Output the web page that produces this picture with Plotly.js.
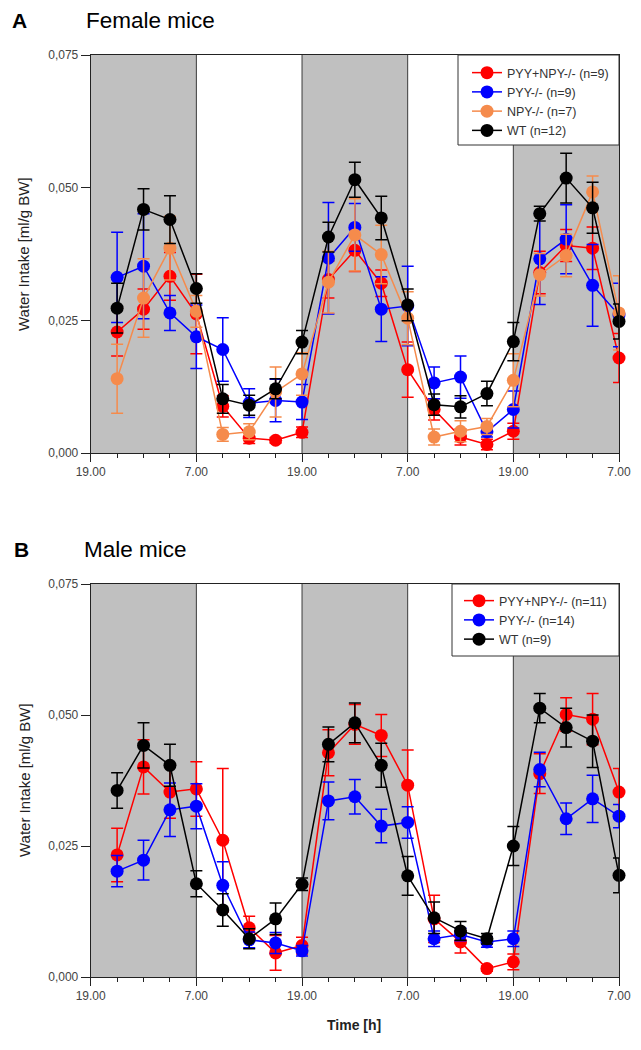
<!DOCTYPE html>
<html>
<head>
<meta charset="utf-8">
<script src="https://cdn.plot.ly/plotly-3.0.1.min.js"></script>
<style>html,body{margin:0;padding:0;background:#fff;}#chart{width:641px;height:1050px;}</style>
</head>
<body>
<div id="chart"></div>
<script>
// Time after start of recording (h); 0 = 19.00
var hours = [3,6,9,12,15,18,21,24,27,30,33,36,39,42,45,48,51,54,57,60];
var xTickVals = [0,12,24,36,48,60];
var xTickText = ['19.00','7.00','19.00','7.00','19.00','7.00'];
var yTickVals = [0,0.025,0.05,0.075];
var yTickText = ['0,000','0,025','0,050','0,075'];
var darkPeriods = [[0,12],[24,36],[48,60]];
var boundaries = [12,24,36,48];

// Female mice
var femRed    = [0.0228,0.0271,0.0333,0.0262,0.0088,0.0028,0.0024,0.0039,0.0327,0.0382,0.0320,0.0157,0.0082,0.0030,0.0016,0.0041,0.0340,0.0391,0.0386,0.0179];
var femRedErr = [0.0045,0.0038,0.0045,0.0075,0.0020,0.0010,0.0005,0.0010,0.0035,0.0040,0.0025,0.0052,0.0020,0.0015,0.0010,0.0015,0.0040,0.0030,0.0040,0.0046];
var femBlue    = [0.0331,0.0352,0.0264,0.0219,0.0195,0.0094,0.0099,0.0096,0.0367,0.0425,0.0271,0.0277,0.0132,0.0143,0.0040,0.0082,0.0366,0.0403,0.0316,0.0260];
var femBlueErr = [0.0085,0.0099,0.0033,0.0060,0.0060,0.0027,0.0040,0.0033,0.0105,0.0045,0.0061,0.0075,0.0030,0.0040,0.0010,0.0035,0.0086,0.0065,0.0077,0.0060];
var femOrange    = [0.0140,0.0292,0.0386,0.0267,0.0035,0.0040,0.0115,0.0149,0.0322,0.0411,0.0374,0.0254,0.0030,0.0041,0.0050,0.0137,0.0336,0.0372,0.0492,0.0264];
var femOrangeErr = [0.0065,0.0074,0.0060,0.0030,0.0013,0.0015,0.0047,0.0040,0.0058,0.0068,0.0055,0.0050,0.0015,0.0020,0.0015,0.0050,0.0040,0.0040,0.0030,0.0070];
var femBlack    = [0.0273,0.0459,0.0440,0.0310,0.0102,0.0090,0.0121,0.0209,0.0407,0.0515,0.0443,0.0279,0.0091,0.0087,0.0112,0.0210,0.0451,0.0518,0.0462,0.0248];
var femBlackErr = [0.0047,0.0039,0.0045,0.0028,0.0027,0.0019,0.0019,0.0022,0.0028,0.0033,0.0041,0.0030,0.0020,0.0021,0.0023,0.0036,0.0014,0.0047,0.0048,0.0033];

// Male mice
var maleRed    = [0.0233,0.0401,0.0353,0.0359,0.0261,0.0094,0.0046,0.0060,0.0428,0.0482,0.0461,0.0366,0.0111,0.0067,0.0016,0.0029,0.0388,0.0501,0.0492,0.0353];
var maleRedErr = [0.0051,0.0052,0.0050,0.0052,0.0137,0.0022,0.0033,0.0016,0.0044,0.0038,0.0040,0.0067,0.0045,0.0021,0.0005,0.0015,0.0038,0.0032,0.0049,0.0045];
var maleBlue    = [0.0202,0.0223,0.0319,0.0326,0.0175,0.0071,0.0065,0.0050,0.0336,0.0344,0.0288,0.0295,0.0073,0.0081,0.0067,0.0073,0.0396,0.0302,0.0340,0.0307];
var maleBlueErr = [0.0030,0.0038,0.0051,0.0043,0.0045,0.0015,0.0020,0.0010,0.0036,0.0033,0.0032,0.0030,0.0015,0.0012,0.0010,0.0015,0.0033,0.0030,0.0045,0.0022];
var maleBlack    = [0.0356,0.0442,0.0404,0.0178,0.0128,0.0073,0.0111,0.0177,0.0444,0.0485,0.0404,0.0193,0.0113,0.0088,0.0073,0.0250,0.0513,0.0476,0.0450,0.0194];
var maleBlackErr = [0.0034,0.0043,0.0040,0.0025,0.0031,0.0019,0.0030,0.0012,0.0033,0.0038,0.0042,0.0037,0.0030,0.0018,0.0010,0.0037,0.0028,0.0037,0.0050,0.0033];

var femNames  = ['PYY+NPY-/- (n=9)','PYY-/- (n=9)','NPY-/- (n=7)','WT (n=12)'];
var maleNames = ['PYY+NPY-/- (n=11)','PYY-/- (n=14)','WT (n=9)'];

var RED='#ff0000', BLUE='#0000ff', ORANGE='#f58b4c', BLACK='#000000';

function tr(y, err, name, color, xa, ya, leg){
  return {
    x: hours, y: y, name: name, type:'scatter', mode:'lines+markers',
    xaxis: xa, yaxis: ya, legend: leg, cliponaxis:false,
    line:{color:color, width:1.5},
    marker:{color:color, size:13, symbol:'circle'},
    error_y:{type:'data', array:err, visible:true, color:color, thickness:1.5, width:6}
  };
}

var data = [
  tr(femRed, femRedErr, femNames[0], RED, 'x', 'y', 'legend'),
  tr(femBlue, femBlueErr, femNames[1], BLUE, 'x', 'y', 'legend'),
  tr(femOrange, femOrangeErr, femNames[2], ORANGE, 'x', 'y', 'legend'),
  tr(femBlack, femBlackErr, femNames[3], BLACK, 'x', 'y', 'legend'),
  tr(maleRed, maleRedErr, maleNames[0], RED, 'x2', 'y2', 'legend2'),
  tr(maleBlue, maleBlueErr, maleNames[1], BLUE, 'x2', 'y2', 'legend2'),
  tr(maleBlack, maleBlackErr, maleNames[2], BLACK, 'x2', 'y2', 'legend2')
];

var shapes = [];
['', '2'].forEach(function(s){
  darkPeriods.forEach(function(p){
    shapes.push({type:'rect', xref:'x'+s, yref:'y'+s+' domain', x0:p[0], x1:p[1], y0:0, y1:1,
      fillcolor:'#c0c0c0', line:{width:0}, layer:'below'});
  });
  boundaries.forEach(function(b){
    shapes.push({type:'line', xref:'x'+s, yref:'y'+s+' domain', x0:b, x1:b, y0:0, y1:1,
      line:{color:'#3a3a3a', width:1}, layer:'below'});
  });
});
// legend frames
shapes.push({type:'rect', xref:'paper', yref:'paper', x0:458/641, x1:619/641, y0:1-145/1050, y1:1-55/1050,
  fillcolor:'#ffffff', line:{color:'#333', width:1}, layer:'above'});
shapes.push({type:'rect', xref:'paper', yref:'paper', x0:452/641, x1:619/641, y0:1-656/1050, y1:1-584/1050,
  fillcolor:'#ffffff', line:{color:'#333', width:1}, layer:'above'});

var FONT = 'Liberation Sans, Arial, sans-serif';
function xax(anchor){
  return {domain:[90.7/641, 619/641], range:[0,60], anchor:anchor,
    tickmode:'array', tickvals:xTickVals, ticktext:xTickText,
    ticks:'outside', ticklen:8, tickwidth:1, tickcolor:'#222',
    minor:{tickmode:'linear', tick0:0, dtick:3, ticks:'outside', ticklen:4, tickcolor:'#222', tickwidth:1},
    showline:true, linecolor:'#222', linewidth:1, mirror:true,
    showgrid:false, zeroline:false, fixedrange:true,
    tickfont:{family:FONT, size:12, color:'#444'}};
}
function yax(domain, anchor){
  return {domain:domain, range:[0,0.075], anchor:anchor,
    tickmode:'array', tickvals:yTickVals, ticktext:yTickText,
    ticks:'outside', ticklen:9, tickwidth:1, tickcolor:'#222',
    showline:true, linecolor:'#222', linewidth:1, mirror:true,
    showgrid:false, zeroline:false, fixedrange:true,
    tickfont:{family:FONT, size:12, color:'#444'}};
}

var legBase = {bgcolor:'rgba(0,0,0,0)', borderwidth:0,
  font:{family:FONT, size:12.5, color:'#333'}, xanchor:'left', yanchor:'top', itemwidth:30, tracegroupgap:0};

var layout = {
  width:641, height:1050,
  margin:{l:0, r:0, t:0, b:0},
  paper_bgcolor:'#ffffff', plot_bgcolor:'#ffffff',
  showlegend:true,
  xaxis: xax('y'),
  yaxis: yax([1-453/1050, 1-55/1050],'x'),
  xaxis2: xax('y2'),
  yaxis2: yax([1-977/1050, 1-584/1050],'x2'),
  legend: Object.assign({}, legBase, {x:467/641, y:1-58/1050}),
  legend2: Object.assign({}, legBase, {x:459/641, y:1-586/1050}),
  shapes: shapes,
  annotations: [
    {text:'<b>A</b>', xref:'paper', yref:'paper', x:10/641, y:1-20/1050, xanchor:'left', yanchor:'middle', showarrow:false, font:{family:FONT, size:21, color:'#000'}},
    {text:'Female mice', xref:'paper', yref:'paper', x:84/641, y:1-20/1050, xanchor:'left', yanchor:'middle', showarrow:false, font:{family:FONT, size:22.5, color:'#000'}},
    {text:'<b>B</b>', xref:'paper', yref:'paper', x:12/641, y:1-549/1050, xanchor:'left', yanchor:'middle', showarrow:false, font:{family:FONT, size:21, color:'#000'}},
    {text:'Male mice', xref:'paper', yref:'paper', x:82/641, y:1-549/1050, xanchor:'left', yanchor:'middle', showarrow:false, font:{family:FONT, size:22.5, color:'#000'}},
    {text:'Water Intake [ml/g BW]', xref:'paper', yref:'paper', x:24/641, y:1-254/1050, xanchor:'center', yanchor:'middle', textangle:-90, showarrow:false, font:{family:FONT, size:15, color:'#222'}},
    {text:'Water Intake [ml/g BW]', xref:'paper', yref:'paper', x:24/641, y:1-780/1050, xanchor:'center', yanchor:'middle', textangle:-90, showarrow:false, font:{family:FONT, size:15, color:'#222'}},
    {text:'<b>Time [h]</b>', xref:'paper', yref:'paper', x:354/641, y:1-1025/1050, xanchor:'center', yanchor:'middle', showarrow:false, font:{family:FONT, size:14, color:'#222'}}
  ]
};

Plotly.newPlot('chart', data, layout, {staticPlot:true, displayModeBar:false});
</script>
</body>
</html>
